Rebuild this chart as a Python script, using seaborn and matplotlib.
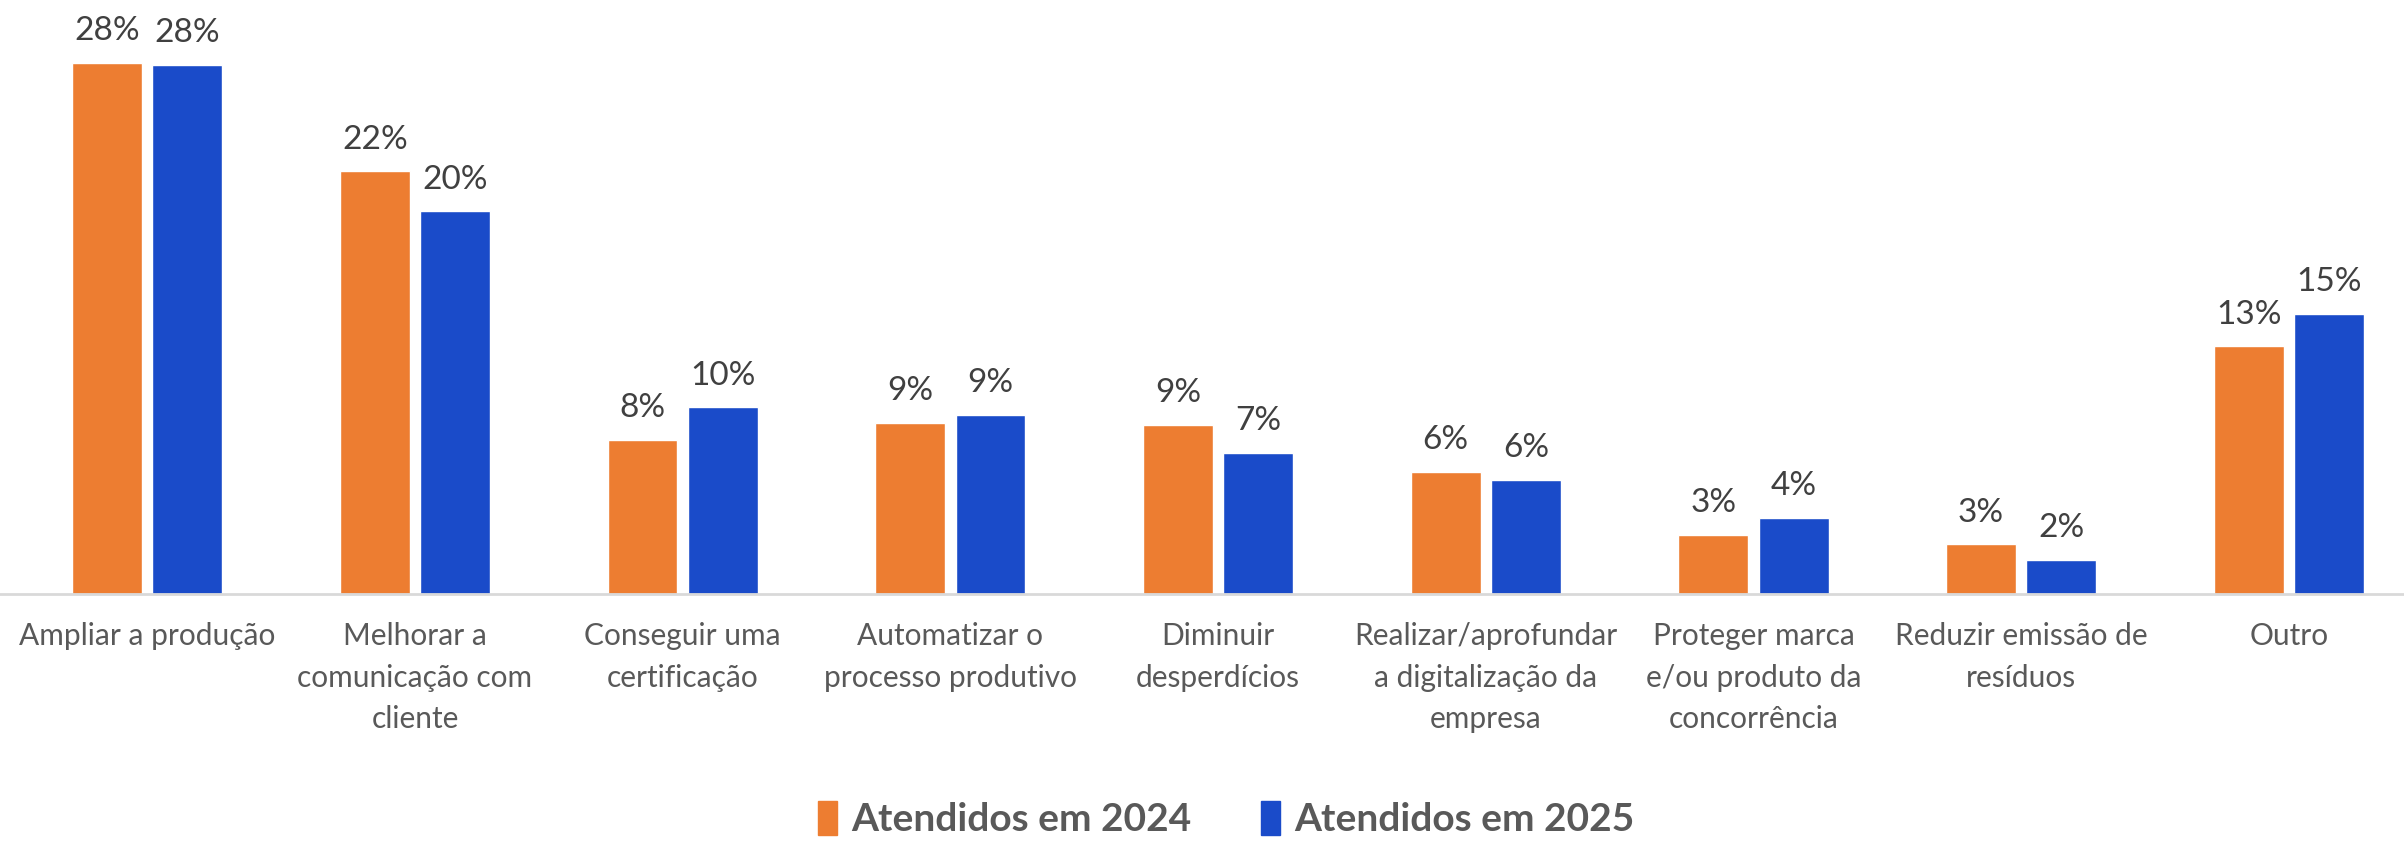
import pandas as pd
import matplotlib.pyplot as plt
import seaborn as sns

# =======================
# Data
# =======================
categorias = [
    "Ampliar a produção",
    "Melhorar a\ncomunicação com\ncliente",
    "Conseguir uma\ncertificação",
    "Automatizar o\nprocesso produtivo",
    "Diminuir\ndesperdícios",
    "Realizar/aprofundar\na digitalização da\nempresa",
    "Proteger marca\ne/ou produto da\nconcorrência",
    "Reduzir emissão de\nresíduos",
    "Outro",
]
atendidos_2024 = [27.9, 22.2, 8.1, 9.0, 8.9, 6.4, 3.1, 2.6, 13.0]
atendidos_2025 = [27.8, 20.1, 9.8, 9.4, 7.4, 6.0, 4.0, 1.8, 14.7]
series = ["Atendidos em 2024", "Atendidos em 2025"]
cores = ["#ED7D31", "#1A4BC9"]

df = pd.DataFrame({
    "categoria": categorias * 2,
    "serie": [series[0]] * len(categorias) + [series[1]] * len(categorias),
    "valor": atendidos_2024 + atendidos_2025,
})

# =======================
# Plot
# =======================
sns.set_theme(style="white")
plt.rcParams["font.family"] = ["Lato", "DejaVu Sans"]

fig = plt.figure(figsize=(24.04, 8.51), dpi=100)
ax = fig.add_axes([0.0, 0.302, 1.0, 0.698])

sns.barplot(
    data=df, x="categoria", y="valor", hue="serie",
    order=categorias, hue_order=series, palette=cores, saturation=1,
    width=0.6, gap=0.13, ax=ax, legend=False,
)

for cont in ax.containers:
    ax.bar_label(cont, labels=[f"{v:.0f}%" for v in cont.datavalues],
                 padding=12, fontsize=24, color="#404040")

ax.set_ylim(0, 31.2)
ax.set_xlim(-0.55, 8.43)
ax.set_xlabel("")
ax.set_ylabel("")
ax.set_yticks([])
sns.despine(ax=ax, left=True)
ax.spines["bottom"].set_color("#D9D9D9")
ax.spines["bottom"].set_linewidth(2)
ax.tick_params(axis="x", length=0, pad=20, labelsize=21.5, labelcolor="#595959")
for lbl in ax.get_xticklabels():
    lbl.set_linespacing(1.6)

handles = [plt.Rectangle((0, 0), 1, 1, color=c) for c in cores]
leg = fig.legend(
    handles, series, loc="lower center", bbox_to_anchor=(0.51, -0.025),
    ncol=2, frameon=False, handlelength=0.5, handleheight=1.0,
    handletextpad=0.35, columnspacing=1.8,
    prop={"size": 28, "weight": "bold"},
)
for t in leg.get_texts():
    t.set_color("#595959")

fig.savefig("out.png", dpi=100)
